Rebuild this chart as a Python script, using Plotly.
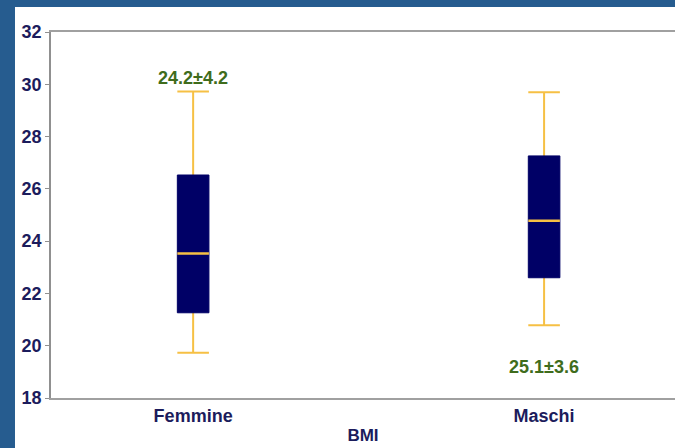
import plotly.graph_objects as go

# BMI distribution by sex
categories = ["Femmine", "Maschi"]
lower_fence = [19.73, 20.78]
q1 = [21.26, 22.60]
median = [23.53, 24.78]
q3 = [26.53, 27.26]
upper_fence = [29.72, 29.70]
mean_sd_labels = ["24.2±4.2", "25.1±3.6"]
y_ticks = [18, 20, 22, 24, 26, 28, 30, 32]

NAVY = "#000066"
GOLD = "#f6c044"
TEXT_NAVY = "#1c1c5c"
GREEN = "#3f6c1c"
FRAME = "#265c8f"
BOX_W = 0.09

fig = go.Figure()

# whiskers: full span from lower to upper fence, in gold
fig.add_trace(go.Box(
    x=categories, q1=median, median=median, q3=median,
    lowerfence=lower_fence, upperfence=upper_fence,
    width=BOX_W, whiskerwidth=1, line=dict(color=GOLD, width=2),
    fillcolor=GOLD, boxpoints=False, hoverinfo="skip", showlegend=False,
))
# interquartile box in navy
fig.add_trace(go.Box(
    x=categories, q1=q1, median=median, q3=q3,
    lowerfence=q1, upperfence=q3,
    width=BOX_W, whiskerwidth=0, line=dict(color=NAVY, width=1),
    fillcolor=NAVY, boxpoints=False, showlegend=False,
))
# median line in gold
fig.add_trace(go.Box(
    x=categories, q1=median, median=median, q3=median,
    lowerfence=median, upperfence=median,
    width=BOX_W, whiskerwidth=0, line=dict(color=GOLD, width=2.5),
    fillcolor=GOLD, boxpoints=False, hoverinfo="skip", showlegend=False,
))

# mean ± sd labels: above the first box, below the second
label_font = dict(color=GREEN, size=18, family="Liberation Sans")
fig.add_annotation(x=categories[0], y=upper_fence[0] + 0.52,
                   text="<b>%s</b>" % mean_sd_labels[0],
                   showarrow=False, font=label_font)
fig.add_annotation(x=categories[1], y=lower_fence[1] - 1.6,
                   text="<b>%s</b>" % mean_sd_labels[1],
                   showarrow=False, font=label_font)

# blue frame along the left and top edges of the page
fig.add_shape(type="rect", xref="paper", yref="paper",
              x0=-0.09, x1=-0.0577, y0=-0.2, y1=1.1,
              fillcolor=FRAME, line=dict(width=0), layer="below")
fig.add_shape(type="rect", xref="paper", yref="paper",
              x0=-0.09, x1=1.1, y0=1.0683, y1=1.1,
              fillcolor=FRAME, line=dict(width=0), layer="below")

fig.update_layout(
    width=675, height=448,
    margin=dict(l=51, r=0, t=32, b=50),
    paper_bgcolor="white", plot_bgcolor="white",
    boxmode="overlay",
    font=dict(family="Liberation Sans", color=TEXT_NAVY),
)
fig.update_xaxes(
    type="category", range=[-0.405, 1.373],
    showline=True, linecolor="#a0a0a0", linewidth=2, mirror=True,
    ticks="", showgrid=False, zeroline=False,
    tickfont=dict(size=18, color=TEXT_NAVY, family="Liberation Sans"),
    title=dict(text="<b>BMI</b>", standoff=5,
               font=dict(size=17, color=TEXT_NAVY, family="Liberation Sans")),
    ticktext=["<b>%s</b>" % c for c in categories], tickvals=categories,
)
fig.update_yaxes(
    range=[18, 32], tickvals=y_ticks,
    ticktext=["<b>%d</b>" % v for v in y_ticks],
    showline=True, linecolor="#909090", linewidth=1.5,
    ticks="outside", ticklen=4, tickcolor="#909090",
    showgrid=False, zeroline=False,
    tickfont=dict(size=18, color=TEXT_NAVY, family="Liberation Sans"),
)

fig.write_html("out.html")
